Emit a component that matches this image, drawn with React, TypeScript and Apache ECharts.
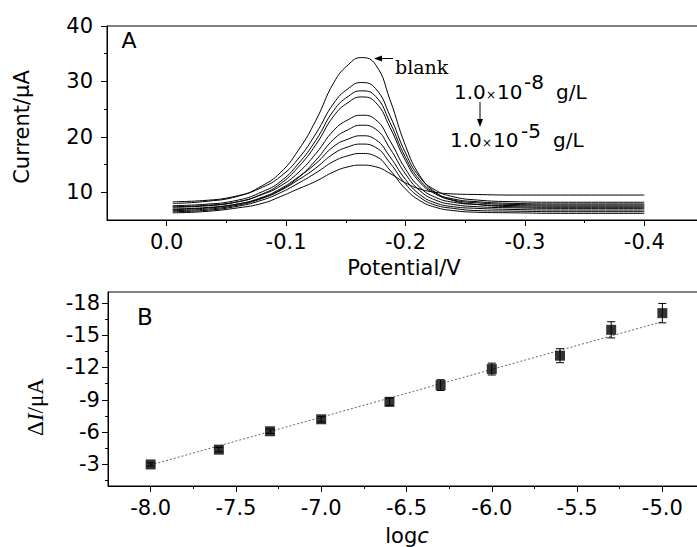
import React, { useEffect, useRef } from "react";
import * as echarts from "echarts";

// ---- Panel A data ----
const potentials = [-0.005, -0.03, -0.06, -0.08, -0.095, -0.11, -0.125, -0.14, -0.152, -0.163, -0.175, -0.187, -0.2, -0.212, -0.225, -0.24, -0.26, -0.29, -0.33, -0.4];
const curveBlank = [8.0, 8.3, 9.3, 11.2, 13.5, 17.5, 23.0, 29.8, 33.0, 34.3, 33.0, 26.7, 18.4, 13.0, 10.0, 8.5, 7.8, 7.4, 7.3, 7.3];
const curve2 = [8.3, 8.5, 9.4, 10.9, 12.8, 16.0, 20.6, 26.1, 28.7, 29.8, 28.7, 23.8, 17.1, 12.7, 10.4, 9.2, 8.6, 8.3, 8.2, 8.2];
const curve3 = [7.6, 7.8, 8.6, 10.1, 11.9, 15.1, 19.4, 24.8, 27.3, 28.3, 27.3, 22.6, 16.3, 12.2, 9.9, 8.8, 8.3, 8.0, 7.9, 7.9];
const curve4 = [7.3, 7.5, 8.3, 9.7, 11.5, 14.5, 18.6, 23.8, 26.2, 27.2, 26.2, 21.7, 15.7, 11.8, 9.7, 8.6, 8.1, 7.8, 7.7, 7.7];
const curve5 = [7.4, 7.6, 8.3, 9.6, 11.1, 13.5, 17.0, 21.2, 23.1, 23.9, 23.1, 19.3, 14.2, 10.9, 9.1, 8.2, 7.8, 7.6, 7.5, 7.5];
const curve6 = [7.0, 7.2, 7.9, 9.0, 10.4, 12.6, 15.8, 19.6, 21.3, 22.1, 21.4, 17.9, 13.3, 10.3, 8.6, 7.8, 7.4, 7.2, 7.1, 7.1];
const curve7 = [6.9, 7.1, 7.9, 9.1, 10.6, 12.7, 15.2, 18.3, 19.6, 20.2, 19.5, 16.4, 12.3, 9.6, 8.1, 7.4, 7.1, 6.9, 6.8, 6.8];
const curve8 = [6.7, 6.9, 7.7, 8.9, 10.3, 12.2, 14.4, 17.0, 18.2, 18.7, 18.1, 15.3, 11.5, 9.1, 7.7, 7.1, 6.7, 6.6, 6.5, 6.5];
const curve9 = [6.5, 6.7, 7.5, 8.6, 9.9, 11.6, 13.5, 15.6, 16.6, 17.0, 16.5, 14.0, 10.6, 8.5, 7.3, 6.7, 6.4, 6.3, 6.2, 6.2];
const curve10 = [6.3, 6.5, 7.2, 8.0, 9.2, 10.6, 12.0, 13.7, 14.6, 14.9, 14.6, 13.4, 11.7, 10.6, 10.0, 9.7, 9.6, 9.5, 9.5, 9.5];
const curvesA = [curveBlank, curve2, curve3, curve4, curve5, curve6, curve7, curve8, curve9, curve10];

const xTicksA = [0, -0.1, -0.2, -0.3, -0.4];
const xMinorA = [-0.05, -0.15, -0.25, -0.35];
const yTicksA = [10, 20, 30, 40];
const yMinorA = [15, 25, 35];

// ---- Panel B data ----
const logC = [-8.0, -7.6, -7.3, -7.0, -6.6, -6.3, -6.0, -5.6, -5.3, -5.0];
const deltaI = [-3.0, -4.37, -6.08, -7.19, -8.81, -10.36, -11.85, -13.09, -15.49, -17.04];
const errI = [0.15, 0.2, 0.2, 0.25, 0.35, 0.5, 0.55, 0.65, 0.75, 0.9];
const fitX = [-8.0, -5.0];
const fitY = [-2.95, -16.25];

const xTicksB = [-8.0, -7.5, -7.0, -6.5, -6.0, -5.5, -5.0];
const xMinorB = [-7.75, -7.25, -6.75, -6.25, -5.75, -5.25, -4.75];
const yTicksB = [-3, -6, -9, -12, -15, -18];
const yMinorB = [-1.5, -4.5, -7.5, -10.5, -13.5, -16.5];

const FONT = "DejaVu Sans";
const SERIF = "DejaVu Serif";

export default function App() {
  const ref = useRef<HTMLDivElement>(null);

  useEffect(() => {
    if (!ref.current) return;
    const chart = echarts.init(ref.current, undefined, { renderer: "svg" });

    const axisLine = { show: true, onZero: false, lineStyle: { color: "#000", width: 1 } };
    const noLine = { show: false, onZero: false };
    const lbl = { color: "#000", fontFamily: FONT, fontSize: 21 };

    const mainX = (gridIndex: number, min: number, max: number, inverse: boolean, ticks: number[], fmt: (v: number) => string) => ({
      type: "value", gridIndex, min, max, inverse, position: "bottom",
      axisLine, splitLine: { show: false },
      axisTick: { show: true, inside: false, length: 6, customValues: ticks, lineStyle: { color: "#000" } },
      axisLabel: { ...lbl, margin: 11, customValues: ticks, formatter: fmt },
    });
    const minorX = (gridIndex: number, min: number, max: number, inverse: boolean, ticks: number[]) => ({
      type: "value", gridIndex, min, max, inverse, position: "bottom",
      axisLine: noLine, splitLine: { show: false },
      axisTick: { show: true, inside: false, length: 3, customValues: ticks, lineStyle: { color: "#000" } },
      axisLabel: { show: false },
    });
    const mainY = (gridIndex: number, min: number, max: number, inverse: boolean, ticks: number[], margin: number) => ({
      type: "value", gridIndex, min, max, inverse, position: "left",
      axisLine, splitLine: { show: false },
      axisTick: { show: true, inside: false, length: 6, customValues: ticks, lineStyle: { color: "#000" } },
      axisLabel: { ...lbl, margin, customValues: ticks, formatter: (v: number) => String(v) },
    });
    const minorY = (gridIndex: number, min: number, max: number, inverse: boolean, ticks: number[]) => ({
      type: "value", gridIndex, min, max, inverse, position: "left",
      axisLine: noLine, splitLine: { show: false },
      axisTick: { show: true, inside: false, length: 3, customValues: ticks, lineStyle: { color: "#000" } },
      axisLabel: { show: false },
    });

    const lineSeries = curvesA.map((c, i) => ({
      type: "line",
      name: "c" + i,
      xAxisIndex: 0,
      yAxisIndex: 0,
      data: potentials.map((p, j) => [p, c[j]]),
      showSymbol: false,
      smooth: 0.5,
      lineStyle: { color: "#000", width: 1 },
      silent: true,
    }));

    const txt = (x: number, y: number, text: string, size: number, family = FONT) => ({
      type: "text", x, y,
      style: { text, font: `${size}px "${family}"`, fill: "#000", align: "left", verticalAlign: "middle" },
    });

    const option: any = {
      animation: false,
      backgroundColor: "#fff",
      grid: [
        { left: 107, top: 26, width: 597, height: 194, show: true, borderColor: "#000", borderWidth: 1, backgroundColor: "transparent", outerBoundsMode: "none", containLabel: false },
        { left: 108, top: 292, width: 597, height: 194, show: true, borderColor: "#000", borderWidth: 1, backgroundColor: "transparent", outerBoundsMode: "none", containLabel: false },
      ],
      xAxis: [
        mainX(0, -0.45, 0.05, true, xTicksA, (v: number) => (v === 0 ? "0.0" : v.toFixed(1))),
        minorX(0, -0.45, 0.05, true, xMinorA),
        mainX(1, -8.25, -4.75, false, xTicksB, (v: number) => v.toFixed(1)),
        minorX(1, -8.25, -4.75, false, xMinorB),
      ],
      yAxis: [
        mainY(0, 5, 40, false, yTicksA, 14),
        minorY(0, 5, 40, false, yMinorA),
        mainY(1, -19, -1, true, yTicksB, 8),
        minorY(1, -19, -1, true, yMinorB),
      ],
      series: [
        ...lineSeries,
        {
          type: "line",
          xAxisIndex: 2,
          yAxisIndex: 2,
          data: fitX.map((x, i) => [x, fitY[i]]),
          showSymbol: false,
          lineStyle: { color: "#666", width: 1, type: [2, 2] },
          silent: true,
          z: 1,
        },
        {
          type: "custom",
          xAxisIndex: 2,
          yAxisIndex: 2,
          data: logC.map((x, i) => [x, deltaI[i], errI[i]]),
          encode: { x: 0, y: 1 },
          renderItem: (params: any, api: any) => {
            const x = api.value(0);
            const y = api.value(1);
            const e = api.value(2);
            const a = api.coord([x, y - e]);
            const b = api.coord([x, y + e]);
            const hw = 4;
            const st = { stroke: "#000", lineWidth: 1 };
            return {
              type: "group",
              children: [
                { type: "line", shape: { x1: a[0], y1: a[1], x2: b[0], y2: b[1] }, style: st },
                { type: "line", shape: { x1: a[0] - hw, y1: a[1], x2: a[0] + hw, y2: a[1] }, style: st },
                { type: "line", shape: { x1: b[0] - hw, y1: b[1], x2: b[0] + hw, y2: b[1] }, style: st },
              ],
            };
          },
          silent: true,
          z: 2,
        },
        {
          type: "scatter",
          xAxisIndex: 2,
          yAxisIndex: 2,
          data: logC.map((x, i) => [x, deltaI[i]]),
          symbol: "rect",
          symbolSize: 10,
          itemStyle: { color: "#000" },
          silent: true,
          z: 3,
        },
      ],
      graphic: [
        // axis titles
        { type: "text", x: 22, y: 127, rotation: Math.PI / 2, style: { text: "Current/μA", font: `21px "${FONT}"`, fill: "#000", align: "center", verticalAlign: "middle" } },
        { type: "text", x: 404, y: 268, style: { text: "Potential/V", font: `21px "${FONT}"`, fill: "#000", align: "center", verticalAlign: "middle" } },
        {
          type: "text", x: 35, y: 407, rotation: Math.PI / 2,
          style: {
            text: "{a|Δ}{b|I}{a|/μA}", fill: "#000", align: "center", verticalAlign: "middle",
            rich: {
              a: { fontFamily: "Liberation Serif", fontSize: 23, fill: "#000" },
              b: { fontFamily: "Liberation Serif", fontSize: 23, fontStyle: "italic", fill: "#000" },
            },
          },
        },
        {
          type: "text", x: 407, y: 536,
          style: {
            text: "{a|log}{b|c}", fill: "#000", align: "center", verticalAlign: "middle",
            rich: {
              a: { fontFamily: FONT, fontSize: 21, fill: "#000" },
              b: { fontFamily: FONT, fontSize: 21, fontStyle: "italic", fill: "#000" },
            },
          },
        },
        // panel letters
        { type: "text", x: 129, y: 40, style: { text: "A", font: `22px "${FONT}"`, fill: "#000", align: "center", verticalAlign: "middle" } },
        { type: "text", x: 145, y: 317, style: { text: "B", font: `23px "${FONT}"`, fill: "#000", align: "center", verticalAlign: "middle" } },
        // blank annotation
        txt(395, 67, "blank", 19, SERIF),
        { type: "line", shape: { x1: 380, y1: 58.5, x2: 393, y2: 58.5 }, style: { stroke: "#000", lineWidth: 1 } },
        { type: "polygon", shape: { points: [[374, 58.5], [382, 55.5], [382, 61.5]] }, style: { fill: "#000" } },
        // concentration range annotation
        txt(454, 92, "1.0", 20),
        txt(486, 95, "×", 12),
        txt(497, 92, "10", 20),
        txt(524, 82, "-8", 20),
        txt(556, 92, "g/L", 20),
        { type: "line", shape: { x1: 480, y1: 102, x2: 480, y2: 120 }, style: { stroke: "#000", lineWidth: 1 } },
        { type: "polygon", shape: { points: [[480, 127], [477, 119], [483, 119]] }, style: { fill: "#000" } },
        txt(450, 140, "1.0", 20),
        txt(482, 143, "×", 12),
        txt(493, 140, "10", 20),
        txt(521, 131, "-5", 20),
        txt(553, 140, "g/L", 20),
      ],
    };

    chart.setOption(option);
    return () => chart.dispose();
  }, []);

  return (
    <div
      ref={ref}
      style={{ position: "fixed", left: 0, top: 0, width: 697, height: 547, background: "#fff" }}
    />
  );
}
